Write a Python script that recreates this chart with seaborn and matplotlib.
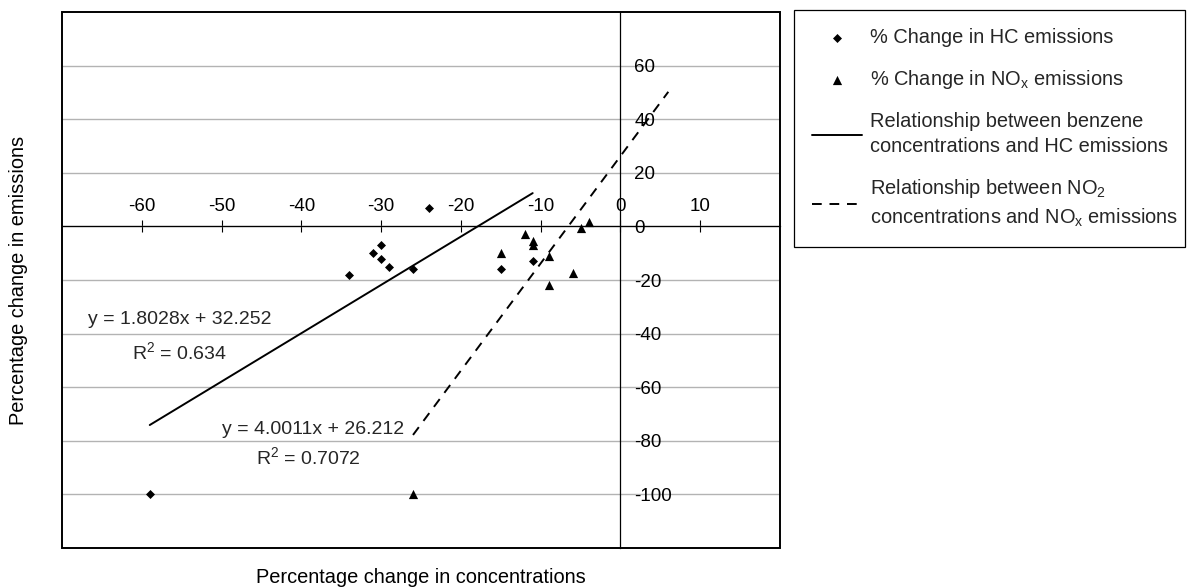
import numpy as np
import pandas as pd
import matplotlib
matplotlib.use("Agg")
import matplotlib.pyplot as plt
from matplotlib.patches import Rectangle
import seaborn as sns

# % change in concentrations (x) vs % change in emissions (y)
hc_conc  = [-59, -34, -31, -30, -30, -29, -26, -24, -15, -11]
hc_emis  = [-100, -18, -10, -7, -12, -15, -16, 7, -16, -13]
nox_conc = [-26, -15, -12, -11, -11, -9, -9, -6, -5, -4]
nox_emis = [-100, -10, -3, -5.5, -7, -11, -22, -17.5, -0.5, 1.8]

# trendlines as printed on the chart
hc_slope,  hc_icept,  hc_r2  = 1.8028, 32.252, 0.634
nox_slope, nox_icept, nox_r2 = 4.0011, 26.212, 0.7072
hc_fit_x  = [-59, -11]
nox_fit_x = [-26, 6]

x_ticks = [-60, -50, -40, -30, -20, -10, 0, 10]
y_ticks = [-100, -80, -60, -40, -20, 0, 20, 40, 60]

labels = [
    "% Change in HC emissions",
    "% Change in NO$_x$ emissions",
    "Relationship between benzene\nconcentrations and HC emissions",
    "Relationship between NO$_2$\nconcentrations and NO$_x$ emissions",
]

sns.set_theme(style="white")
plt.rcParams["font.family"] = ["Liberation Sans", "DejaVu Sans"]
plt.rcParams["mathtext.fontset"] = "custom"
plt.rcParams["mathtext.rm"] = "Liberation Sans"
plt.rcParams["mathtext.it"] = "Liberation Sans:italic"
plt.rcParams["mathtext.default"] = "regular"
plt.rcParams["axes.unicode_minus"] = False

W, H = 1188, 588
fig = plt.figure(figsize=(W / 100, H / 100), dpi=100)
ax = fig.add_axes([62 / W, 1 - 548 / H, (780 - 62) / W, (548 - 12) / H])

# ── scatter points ──
sns.scatterplot(x=hc_conc, y=hc_emis, marker="D", s=21, color="black",
                linewidth=0, ax=ax, zorder=4)
h_hc = ax.collections[-1]
sns.scatterplot(x=nox_conc, y=nox_emis, marker="^", s=44, color="black",
                linewidth=0, ax=ax, zorder=4)
h_nox = ax.collections[-1]

# ── trendlines ──
hc_line = pd.DataFrame({"x": hc_fit_x})
hc_line["y"] = hc_slope * hc_line["x"] + hc_icept
nox_line = pd.DataFrame({"x": nox_fit_x})
nox_line["y"] = nox_slope * nox_line["x"] + nox_icept

sns.lineplot(data=hc_line, x="x", y="y", ax=ax, color="black", lw=1.4,
             estimator=None, sort=False, zorder=3)
l_hc = ax.lines[-1]
sns.lineplot(data=nox_line, x="x", y="y", ax=ax, color="black", lw=1.4,
             linestyle=(0, (5, 4)), estimator=None, sort=False, zorder=3)
l_nox = ax.lines[-1]

ax.text(-66.75, -36.4, f"y = {hc_slope}x + {hc_icept}", fontsize=14, va="baseline")
ax.text(-61.2, -49.6, f"R$^2$ = {hc_r2}", fontsize=14, va="baseline")
ax.text(-50.0, -77.6, f"y = {nox_slope}x + {nox_icept}", fontsize=14, va="baseline")
ax.text(-45.7, -88.8, f"R$^2$ = {nox_r2}", fontsize=14, va="baseline")

# ── axes crossing at zero ──
ax.set_xlim(-70, 20)
ax.set_ylim(-120, 80)
for s in ["left", "bottom"]:
    ax.spines[s].set_visible(False)
for s in ["top", "right"]:
    ax.spines[s].set_position(("data", 0))
    ax.spines[s].set_color("black")
    ax.spines[s].set_linewidth(0.9)
ax.xaxis.set_ticks_position("top")
ax.yaxis.set_ticks_position("right")
ax.set_xticks(x_ticks)
ax.set_yticks(y_ticks)
ax.tick_params(axis="x", direction="inout", length=8.6, width=0.8, pad=3.6,
               labelsize=13.5, colors="black")
ax.tick_params(axis="y", length=0, pad=10, labelsize=13.5, colors="black")
ax.grid(axis="y", color="#b3b3b3", lw=1.0)
ax.grid(axis="x", visible=False)
ax.add_patch(Rectangle((0, 0), 1, 1, transform=ax.transAxes, fill=False,
                       lw=1.4, ec="black", clip_on=False, zorder=5))

ax.set_xlabel("Percentage change in concentrations", fontsize=14.4, color="black")
ax.xaxis.set_label_position("bottom")
ax.xaxis.set_label_coords(0.5, -0.0364)
ax.set_ylabel("Percentage change in emissions", fontsize=14.4, color="black")
ax.yaxis.set_label_position("left")
ax.yaxis.set_label_coords(-0.0474, 0.5)

# ── legend box on the right ──
leg = fig.legend([h_hc, h_nox, l_hc, l_nox], labels, loc="upper left",
                 bbox_to_anchor=(794 / W, 1 - 10 / H, 391 / W, 0), mode="expand",
                 frameon=True, fancybox=False, edgecolor="black", framealpha=1,
                 fontsize=14.4, handlelength=2.5, handletextpad=0.4,
                 borderpad=0.9, labelspacing=1.05, borderaxespad=0)
leg.get_frame().set_linewidth(0.9)
for t in leg.get_texts():
    t.set_linespacing(1.4)

plt.savefig("out.png", dpi=100)
